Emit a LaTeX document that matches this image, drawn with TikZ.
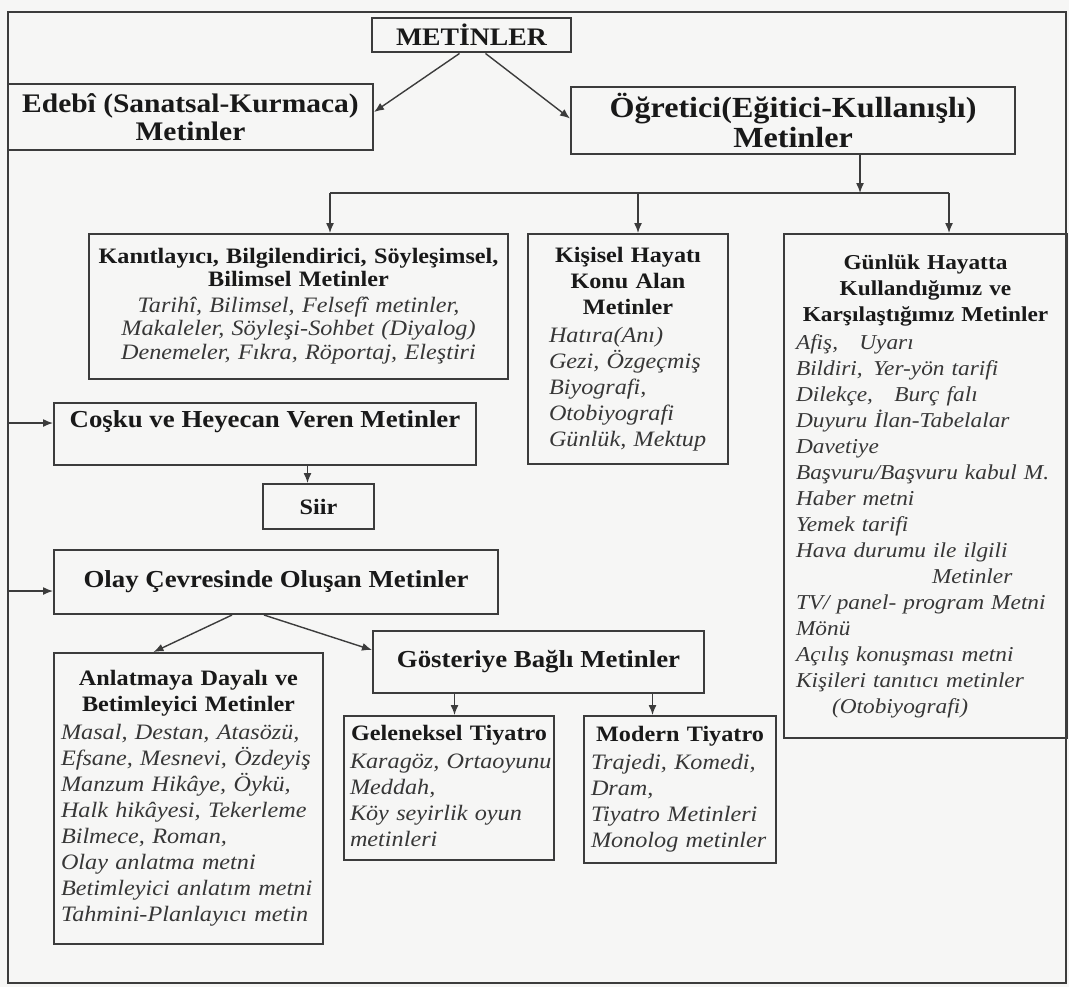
\documentclass[tikz,border=0pt]{standalone}
\usepackage{fontspec}
\setmainfont{Liberation Serif}[FakeStretch=1.1]
\usepackage{tikz}
\usetikzlibrary{arrows.meta, positioning, calc}
\definecolor{inkgray}{RGB}{60, 60, 60}
\definecolor{inkblack}{RGB}{25, 25, 25}
\definecolor{softink}{RGB}{55, 55, 55}
\definecolor{paper}{RGB}{246, 246, 245}

% header lines (bold, centred) and list lines (italic)
\newcommand{\hd}[1]{{\centering\bfseries\begin{tabular}{@{}c@{}}#1\end{tabular}\par}}
\newcommand{\lst}[2][0pt]{{\noindent\itshape\color{softink}\hspace*{#1}\begin{tabular}{@{}l@{}}#2\end{tabular}\par}}
\newcommand{\clst}[1]{{\centering\itshape\leavevmode\color{softink}\begin{tabular}{@{}c@{}}#1\end{tabular}\par}}

\begin{document}
\begin{tikzpicture}[
    x=0.5pt, y=-0.5pt,
    box/.style={draw=inkgray, line width=1pt, anchor=north west, inner xsep=3pt, inner ysep=3pt, text=inkblack, font=\fontsize{11}{13}\selectfont},
    toplvl/.style={draw=inkgray, line width=1pt, text=inkblack, align=center, font=\fontsize{14}{14}\selectfont\bfseries},
    midlvl/.style={draw=inkgray, line width=1pt, anchor=north west, text=inkblack, font=\fontsize{12.2}{13}\selectfont\bfseries},
    arrow/.style={-{Latex[length=5pt,width=4pt]}, line width=0.7pt, inkgray},
    bus/.style={line width=0.7pt, inkgray}
]
\useasboundingbox (0,0) rectangle (1069,987);
\fill[paper] (0,0) rectangle (1069,987);
% outer frame
\draw[inkgray, line width=0.8pt] (8,12) rectangle (1066,983);
\coordinate (fl) at (8,500);

% top level
\node[toplvl, minimum width=99.5pt, minimum height=17pt, font=\fontsize{12.6}{13}\selectfont\bfseries] (met) at (471.5,35) {METİNLER};
\node[toplvl, minimum width=182.5pt, minimum height=33pt, font=\fontsize{13.4}{14}\selectfont\bfseries] (edebi) at (190.5,117) {Edebî (Sanatsal-Kurmaca)\\Metinler};
\node[toplvl, minimum width=222pt, minimum height=32.5pt, font=\fontsize{14.6}{14.6}\selectfont\bfseries] (ogr) at (793,120.5) {Öğretici(Eğitici-Kullanışlı)\\Metinler};

\draw[arrow] ([xshift=-6pt]met.south) -- ([yshift=2.5pt]edebi.east);
\draw[arrow] ([xshift=7pt]met.south) -- ([yshift=1pt]ogr.west);

% Öğretici branches
\node[box, text width=203.5pt, minimum height=72.5pt, font=\fontsize{11}{11.8}\selectfont] (kanit) at (88,233)
    {\hd{Kanıtlayıcı, Bilgilendirici, Söyleşimsel,\\Bilimsel Metinler}\clst{Tarihî, Bilimsel, Felsefî metinler,\\Makaleler, Söyleşi-Sohbet (Diyalog)\\Denemeler, Fıkra, Röportaj, Eleştiri}};
\node[box, text width=94pt, minimum height=115pt] (kisi) at (527,233)
    {\hd{Kişisel Hayatı\\Konu Alan\\Metinler}\lst[7.5pt]{Hatıra(Anı)\\Gezi, Özgeçmiş\\Biyografi,\\Otobiyografi\\Günlük, Mektup}};
\node[box, text width=135.5pt, minimum height=252pt, font=\fontsize{10.6}{13}\selectfont] (gunluk) at (783,233)
    {\hd{Günlük Hayatta\\Kullandığımız ve\\Karşılaştığımız Metinler}\lst[3pt]{Afiş,\quad Uyarı\\Bildiri,\enspace Yer-yön tarifi\\Dilekçe,\quad Burç falı\\Duyuru İlan-Tabelalar\\Davetiye\\Başvuru/Başvuru kabul M.\\Haber metni\\Yemek tarifi\\Hava durumu ile ilgili\\\hspace*{68pt}Metinler\\TV/ panel- program Metni\\Mönü\\Açılış konuşması metni\\Kişileri tanıtıcı metinler\\\hspace*{18pt}(Otobiyografi)}};

\coordinate (busL) at (330,193);
\coordinate (busM) at (638,193);
\coordinate (busR) at (949,193);
\draw[arrow] ([xshift=33.5pt]ogr.south) -- ([xshift=33.5pt]ogr.south |- busR);
\draw[bus] (busL) -- (busR);
\foreach \c/\n in {busL/kanit, busM/kisi, busR/gunluk}
    \draw[arrow] (\c) -- (\c |- \n.north);

% Edebi side
\node[midlvl, minimum width=211pt, text height=9pt, text depth=16pt, inner ysep=3pt] (cosku) at (53,402) {Coşku ve Heyecan Veren Metinler};
\node[midlvl, minimum width=55.5pt, minimum height=22.5pt, font=\fontsize{11}{13}\selectfont\bfseries] (siir) at (262,483) {Siir};
\node[midlvl, minimum width=222pt, minimum height=32pt] (olay) at (53,549) {Olay Çevresinde Oluşan Metinler};

\foreach \n/\s in {cosku/5.5pt, olay/-4.5pt}
    \draw[arrow] ([yshift=\s]\n.west -| fl) -- ([yshift=\s]\n.west);
\draw[arrow] ([xshift=-5.5pt]siir.north |- cosku.south) -- ([xshift=-5.5pt]siir.north);

\node[box, text width=128.5pt, minimum height=145.5pt] (anlat) at (53,652)
    {\hd{Anlatmaya Dayalı ve\\Betimleyici Metinler}\lst[0.5pt]{Masal, Destan, Atasözü,\\Efsane, Mesnevi, Özdeyiş\\Manzum Hikâye, Öykü,\\Halk hikâyesi, Tekerleme\\Bilmece, Roman,\\Olay anlatma metni\\Betimleyici anlatım metni\\Tahmini-Planlayıcı metin}};
\node[midlvl, minimum width=165.5pt, minimum height=31pt] (goster) at (372,630) {Gösteriye Bağlı Metinler};

\draw[arrow] ([xshift=-22pt]olay.south) -- ([xshift=-17.5pt]anlat.north);
\draw[arrow] ([xshift=-6pt]olay.south) -- ([yshift=6pt]goster.west);

% theatre
\node[box, text width=99pt, minimum height=71.5pt] (gelen) at (343,715)
    {\hd{Geleneksel Tiyatro}\lst{Karagöz, Ortaoyunu\\Meddah,\\Köy seyirlik oyun\\metinleri}};
\node[box, text width=90pt, minimum height=73.5pt] (modern) at (583,715)
    {\hd{Modern Tiyatro}\lst[0.5pt]{Trajedi, Komedi,\\Dram,\\Tiyatro Metinleri\\Monolog metinler}};

\draw[arrow] ([xshift=-42pt]goster.south) -- ([xshift=-42pt]goster.south |- gelen.north);
\draw[arrow] ([xshift=57pt]goster.south) -- ([xshift=57pt]goster.south |- modern.north);
\end{tikzpicture}
\end{document}
